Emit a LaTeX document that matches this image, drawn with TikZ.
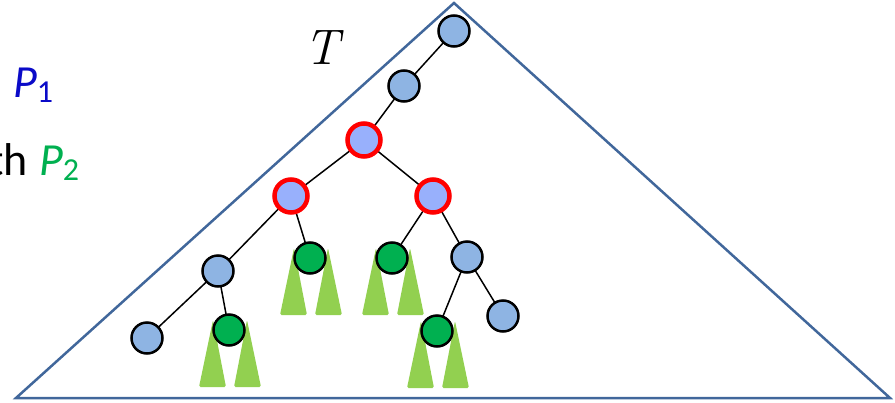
\documentclass[tikz,border=0pt]{standalone}
\usepackage{fontspec}
\newfontfamily\carl{Carlito}
\usetikzlibrary{backgrounds,calc}
\definecolor{nodeblue}{RGB}{142,180,227}
\definecolor{ringfill}{RGB}{152,176,252}
\definecolor{dkgreen}{RGB}{0,176,80}
\definecolor{ltgreen}{RGB}{146,208,80}
\definecolor{triline}{RGB}{65,103,155}
\definecolor{pblue}{RGB}{10,10,200}
\tikzset{
  x=1pt,y=-1pt,
  bnode/.style={circle,draw=black,line width=2.5pt,fill=nodeblue,minimum size=31pt,inner sep=0pt},
  rnode/.style={circle,draw=red,line width=4.5pt,fill=ringfill,minimum size=33pt,inner sep=0pt},
  gnode/.style={circle,draw=black,line width=2.5pt,fill=dkgreen,minimum size=31pt,inner sep=0pt},
  edge/.style={draw=black,line width=1.5pt},
  sub/.style={fill=ltgreen,rounded corners=1.5pt},
  outer/.style={draw=triline,line width=2.5pt,line join=miter},
  lbl/.style={inner sep=0pt,font=\carl\fontsize{46}{50}\selectfont}
}
\newcommand{\subtrees}[1]{%
  \fill[sub] ($(#1)+(-16,-10)$) -- ($(#1)+(-3,57)$) -- ($(#1)+(-30,57)$) -- cycle;
  \fill[sub] ($(#1)+(18,-10)$) -- ($(#1)+(32,57)$) -- ($(#1)+(5,57)$) -- cycle;
}
\begin{document}
\begin{tikzpicture}
\useasboundingbox (0,0) rectangle (895,402);
\coordinate (apex) at (454,3);
\coordinate (bl) at (16,398);
\coordinate (br) at (890,398);
\draw[outer] (bl) -- (apex) -- (br) -- cycle;
\node[bnode] (n1) at (454,31) {};
\node[bnode] (n2) at (404,86) {};
\node[rnode] (n3) at (364,140) {};
\node[rnode] (n4) at (291,196) {};
\node[rnode] (n5) at (433,196) {};
\node[bnode] (n6) at (218,271) {};
\node[gnode] (n7) at (310,258) {};
\node[bnode] (n8) at (147,338) {};
\node[gnode] (n9) at (229,330) {};
\node[gnode] (n10) at (392,258) {};
\node[bnode] (n11) at (467,257) {};
\node[gnode] (n12) at (437,331) {};
\node[bnode] (n13) at (503,316) {};
\begin{scope}[on background layer]
  \subtrees{n7}
  \subtrees{n9}
  \subtrees{n10}
  \subtrees{n12}
  \draw[edge] (n1.center) -- (n2.center) -- (n3.center) -- (n4.center);
  \draw[edge] (n3.center) -- (n5.center);
  \draw[edge] (n4.center) -- (n6.center) -- (n8.center);
  \draw[edge] (n4.center) -- (n7.center);
  \draw[edge] (n6.center) -- (n9.center);
  \draw[edge] (n5.center) -- (n10.center);
  \draw[edge] (n5.center) -- (n11.center) -- (n12.center);
  \draw[edge] (n11.center) -- (n13.center);
\end{scope}
\node[anchor=base,inner sep=0pt,font=\fontsize{50}{60}\selectfont] (T) at (322,64) {\itshape T};
\node[lbl,anchor=base west,text=pblue] (p1) at (13,97)
  {\itshape P\raisebox{-5pt}{\upshape\fontsize{32}{36}\selectfont 1}};
\node[lbl,anchor=base east] (th) at (28,175) {th};
\node[lbl,anchor=base west,text=dkgreen] (p2) at (39,175)
  {\itshape P\raisebox{-5pt}{\upshape\fontsize{32}{36}\selectfont 2}};
\end{tikzpicture}
\end{document}
